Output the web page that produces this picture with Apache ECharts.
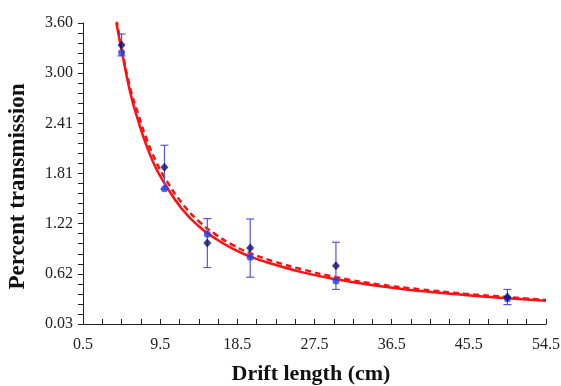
<!DOCTYPE html>
<html>
<head>
<meta charset="utf-8">
<script src="https://cdn.jsdelivr.net/npm/echarts@6/dist/echarts.min.js"></script>
<style>
  html, body { margin: 0; padding: 0; background: #fff; }
  #chart { width: 561px; height: 386px; }
</style>
</head>
<body>
<div id="chart"></div>
<script>
// measured points (diamonds) with error bars, simulated points (circles)
const driftLength = [5, 10, 15, 20, 30, 50];
const measured = [3.34, 1.89, 0.99, 0.93, 0.72, 0.35];
const measuredErr = [0.13, 0.26, 0.29, 0.345, 0.28, 0.09];
const simulated = [3.25, 1.635, 1.094, 0.821, 0.54, 0.33];

// fitted curves
const fitX = [4.4, 5, 6, 7, 8, 9, 10, 12, 14, 16, 18, 20, 23, 26, 30, 35, 40, 45, 50, 54.5];
const fitSolid = [3.60, 3.28, 2.78, 2.42, 2.12, 1.88, 1.70, 1.40, 1.19, 1.04, 0.92, 0.83, 0.73, 0.645, 0.56, 0.48, 0.42, 0.375, 0.335, 0.305];
const fitDashed = [3.64, 3.31, 2.83, 2.50, 2.20, 1.96, 1.77, 1.47, 1.25, 1.09, 0.965, 0.87, 0.765, 0.68, 0.585, 0.50, 0.44, 0.39, 0.35, 0.315];

// axis tick labels
const xTickValues = [0.5, 9.5, 18.5, 27.5, 36.5, 45.5, 54.5];
const xTickLabels = ['0.5', '9.5', '18.5', '27.5', '36.5', '45.5', '54.5'];
const yTickValues = [0.03, 0.625, 1.22, 1.815, 2.41, 3.005, 3.60];
const yTickLabels = ['0.03', '0.62', '1.22', '1.81', '2.41', '3.00', '3.60'];

// minor ticks: split each labelled step
function subTicks(vals, n) {
  const out = [];
  for (let i = 0; i < vals.length - 1; i++) {
    for (let k = 0; k < n; k++) out.push(vals[i] + (vals[i + 1] - vals[i]) * k / n);
  }
  out.push(vals[vals.length - 1]);
  return out;
}
function labelFor(vals, labels) {
  return function (v) {
    let best = 0;
    vals.forEach((t, i) => { if (Math.abs(t - v) < Math.abs(vals[best] - v)) best = i; });
    return labels[best];
  };
}

const serif = '"Liberation Serif", "DejaVu Serif", serif';

const chart = echarts.init(document.getElementById('chart'));
chart.setOption({
  animation: false,
  backgroundColor: '#fff',
  grid: {left: 83, right: 15, top: 23, bottom: 62, containLabel: false, outerBoundsMode: 'none'},
  xAxis: {
    type: 'value',
    min: 0.5,
    max: 54.5,
    name: 'Drift length (cm)',
    nameLocation: 'middle',
    nameGap: 39,
    nameTextStyle: {fontFamily: serif, fontWeight: 'bold', fontSize: 22, color: '#111', padding: [0, 7, 0, 0]},
    axisLine: {lineStyle: {color: '#222', width: 1}},
    axisTick: {inside: true, length: 5, customValues: subTicks(xTickValues, 4), lineStyle: {color: '#222'}},
    axisLabel: {
      customValues: xTickValues,
      formatter: labelFor(xTickValues, xTickLabels),
      fontFamily: serif, fontSize: 16, color: '#222', margin: 13
    },
    splitLine: {show: false}
  },
  yAxis: {
    type: 'value',
    min: 0.03,
    max: 3.60,
    name: 'Percent transmission',
    nameLocation: 'middle',
    nameGap: 53,
    nameTextStyle: {fontFamily: serif, fontWeight: 'bold', fontSize: 23, color: '#111', padding: [0, 26, 0, 0]},
    axisLine: {show: true, lineStyle: {color: '#222', width: 1}},
    axisTick: {show: true, inside: false, length: 5, customValues: subTicks(yTickValues, 5), lineStyle: {color: '#222'}},
    axisLabel: {
      customValues: yTickValues,
      formatter: labelFor(yTickValues, yTickLabels),
      fontFamily: serif, fontSize: 16, color: '#222', margin: 10
    },
    splitLine: {show: false}
  },
  series: [
    {
      type: 'line',
      data: fitX.map((x, i) => [x, fitSolid[i]]),
      smooth: true,
      showSymbol: false,
      lineStyle: {color: '#ff1010', width: 2.5},
      z: 2
    },
    {
      type: 'line',
      data: fitX.map((x, i) => [x, fitDashed[i]]),
      smooth: true,
      showSymbol: false,
      lineStyle: {color: '#ff1010', width: 2.5, type: [6, 4]},
      z: 2
    },
    {
      type: 'custom',
      data: driftLength.map((x, i) => [x, measured[i] - measuredErr[i], measured[i] + measuredErr[i]]),
      renderItem: function (params, api) {
        const top = api.coord([api.value(0), api.value(2)]);
        const bot = api.coord([api.value(0), api.value(1)]);
        const w = 4;
        const st = {stroke: '#5656d6', lineWidth: 1.2};
        return {
          type: 'group',
          children: [
            {type: 'line', shape: {x1: top[0], y1: top[1], x2: bot[0], y2: bot[1]}, style: st},
            {type: 'line', shape: {x1: top[0] - w, y1: top[1], x2: top[0] + w, y2: top[1]}, style: st},
            {type: 'line', shape: {x1: bot[0] - w, y1: bot[1], x2: bot[0] + w, y2: bot[1]}, style: st}
          ]
        };
      },
      z: 3
    },
    {
      type: 'scatter',
      data: driftLength.map((x, i) => [x, simulated[i]]),
      symbol: 'circle',
      symbolSize: 7,
      itemStyle: {color: '#1f3fe6'},
      z: 4
    },
    {
      type: 'scatter',
      data: driftLength.map((x, i) => [x, measured[i]]),
      symbol: 'diamond',
      symbolSize: [8, 9],
      itemStyle: {color: '#0c0c78'},
      z: 5
    }
  ]
});
</script>
</body>
</html>
